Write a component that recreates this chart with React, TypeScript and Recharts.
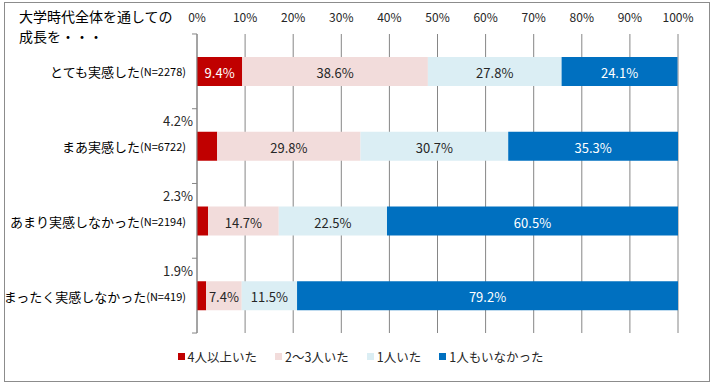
import { Bar, BarChart, CartesianGrid, LabelList, Legend, XAxis, YAxis } from "recharts";

const categories = ["とても実感した", "まあ実感した", "あまり実感しなかった", "まったく実感しなかった"];
const sampleSizes = [2278, 6722, 2194, 419];
const fourOrMore = [9.4, 4.2, 2.3, 1.9];
const twoToThree = [38.6, 29.8, 14.7, 7.4];
const onePerson = [27.8, 30.7, 22.5, 11.5];
const nobody = [24.1, 35.3, 60.5, 79.2];
const xTicks = [0, 10, 20, 30, 40, 50, 60, 70, 80, 90, 100];

const seriesInfo = [
    { key: "fourOrMore", name: "4人以上いた", color: "#C00000", text: "#FFFFFF" },
    { key: "twoToThree", name: "2〜3人いた", color: "#F2DCDB", text: "#262626" },
    { key: "onePerson", name: "1人いた", color: "#DBEEF4", text: "#262626" },
    { key: "nobody", name: "1人もいなかった", color: "#0070C0", text: "#FFFFFF" },
];

const data = categories.map((name, i) => ({
    name,
    n: sampleSizes[i],
    fourOrMore: fourOrMore[i],
    twoToThree: twoToThree[i],
    onePerson: onePerson[i],
    nobody: nobody[i],
}));

const FONT = "'Noto Sans CJK JP', 'Noto Sans', sans-serif";
const HALF_BAND = 37.4;

function CategoryTick(props: any) {
    const { x, y, payload, index } = props;
    const axisX = x + 8;
    const row = data[payload.index ?? index];
    return (
        <g>
            <line x1={axisX - 5} x2={axisX} y1={y - HALF_BAND} y2={y - HALF_BAND} stroke="#868686" />
            {index === categories.length - 1 && (
                <line x1={axisX - 5} x2={axisX} y1={y + HALF_BAND} y2={y + HALF_BAND} stroke="#868686" />
            )}
            <text x={axisX - 11} y={y} textAnchor="end" dominantBaseline="central" fill="#000" fontFamily={FONT}>
                <tspan fontSize={13}>{payload.value}</tspan>
                <tspan fontSize={11}>(N={row ? row.n : ""})</tspan>
            </text>
        </g>
    );
}

function makeLabel(textColor: string, outsideSmall: boolean) {
    return (props: any) => {
        const { x, y, width, height, value } = props;
        if (outsideSmall && value < 5) {
            return (
                <text x={x - 4} y={y - 11} textAnchor="end" dominantBaseline="central" fontSize={13} fill="#262626" fontFamily={FONT}>
                    {value.toFixed(1)}%
                </text>
            );
        }
        return (
            <text x={x + width / 2} y={y + height / 2 + 1} textAnchor="middle" dominantBaseline="central" fontSize={13} fill={textColor} fontFamily={FONT}>
                {value.toFixed(1)}%
            </text>
        );
    };
}

function LegendContent() {
    return (
        <div style={{ display: "flex", justifyContent: "center", gap: 18, fontFamily: FONT, fontSize: 12.5, color: "#262626", paddingLeft: 8 }}>
            {seriesInfo.map((s) => (
                <span key={s.key} style={{ display: "flex", alignItems: "center" }}>
                    <span style={{ width: 7, height: 7, background: s.color, marginRight: 3, display: "inline-block" }} />
                    {s.name}
                </span>
            ))}
        </div>
    );
}

export default function App() {
    return (
        <div style={{ position: "absolute", left: 0, top: 0, width: 713, height: 385, background: "#fff" }}>
            <div style={{ position: "absolute", left: 4, top: 2, width: 704, height: 378, border: "1px solid #8c8c8c" }} />
            <div style={{ position: "absolute", left: 19, top: 6, fontFamily: FONT, fontSize: 14, lineHeight: "20px", color: "#000" }}>
                大学時代全体を通しての
                <br />
                成長を・・・
            </div>
            <BarChart
                width={713}
                height={385}
                data={data}
                layout="vertical"
                margin={{ top: 10, right: 35, bottom: 52, left: 0 }}
                style={{ position: "absolute", left: 0, top: 0 }}
            >
                <CartesianGrid horizontal={false} stroke="#868686" />
                <XAxis
                    type="number"
                    orientation="top"
                    domain={[0, 100]}
                    ticks={xTicks}
                    tickFormatter={(v) => `${v}%`}
                    axisLine={false}
                    tickLine={false}
                    height={24}
                    tick={{ fontSize: 12, fill: "#262626", fontFamily: FONT }}
                    tickMargin={6}
                    interval={0}
                />
                <YAxis
                    type="category"
                    dataKey="name"
                    width={197}
                    axisLine={{ stroke: "#868686" }}
                    tickLine={false}
                    tick={<CategoryTick />}
                    interval={0}
                />
                {seriesInfo.map((s, i) => (
                    <Bar key={s.key} dataKey={s.key} name={s.name} stackId="a" fill={s.color} barSize={29} isAnimationActive={false}>
                        <LabelList dataKey={s.key} content={makeLabel(s.text, i === 0)} />
                    </Bar>
                ))}
                <Legend
                    layout="horizontal"
                    align="center"
                    verticalAlign="middle"
                    content={<LegendContent />}
                    wrapperStyle={{ top: 347, left: 0, width: 713 }}
                />
            </BarChart>
        </div>
    );
}
